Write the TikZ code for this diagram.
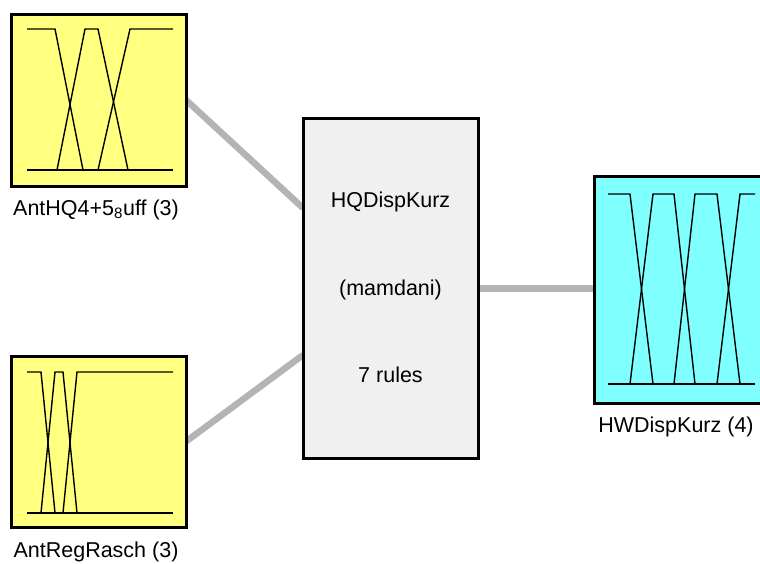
\documentclass[tikz,border=0pt]{standalone}
\usepackage{fontspec}
\setmainfont{Liberation Sans}
\usepackage{xcolor}
\usetikzlibrary{backgrounds}
\definecolor{invarcolor}{rgb}{1,1,0.5}
\definecolor{outvarcolor}{rgb}{0.5,1,1}
\definecolor{fiscolor}{rgb}{0.94,0.94,0.94}
\definecolor{linkcolor}{HTML}{B4B4B4}
\tikzset{
  varbox/.style={draw=black, line width=3pt, inner sep=0pt, outer sep=0pt},
  mfline/.style={black, line width=1.4pt, line join=miter},
  link/.style={linkcolor, line width=6.5pt},
  lbl/.style={font=\fontsize{21.5}{25}\selectfont, inner sep=0pt}
}

\begin{document}
\begin{tikzpicture}[x=1pt,y=-1pt]
\useasboundingbox (0,0) rectangle (760,563);
\clip (0,0) rectangle (760,563);
%% variable boxes and the rule box
\node[varbox, fill=invarcolor, minimum width=175pt, minimum height=172pt] (inHQ) at (98.5,100) {};
\node[varbox, fill=invarcolor, minimum width=175pt, minimum height=171pt] (inReg) at (98.5,441.5) {};
\node[varbox, fill=outvarcolor, minimum width=176pt, minimum height=227pt] (outHW) at (682.5,289.5) {};
\node[varbox, fill=fiscolor, minimum width=175pt, minimum height=340pt] (fis) at (390.5,288.5) {};
\coordinate (hookA) at (303,208);
\coordinate (hookB) at (303,355);
%% connectors, under the boxes
\begin{scope}[on background layer]
\draw[link] (inHQ.east) -- (hookA);
\draw[link] (inReg.east) -- (hookB);
\draw[link] (fis.east) -- (fis.east -| outHW.west);
\end{scope}
%% membership functions, input 1
\draw[mfline] (27,170) -- (173,170);
\draw[mfline] (27,29) -- (55,29) -- (83,170);
\draw[mfline] (57,170) -- (85,29) -- (98,29) -- (128,170);
\draw[mfline] (98,170) -- (130,29) -- (173,29);
%% membership functions, input 2
\draw[mfline] (27,513) -- (173,513);
\draw[mfline] (27,372) -- (41,372) -- (55,513);
\draw[mfline] (41,513) -- (55,372) -- (63,372) -- (77,513);
\draw[mfline] (63,513) -- (77,372) -- (173,372);
%% membership functions, output
\draw[mfline] (608,384) -- (755,384);
\draw[mfline] (608,194) -- (630,194) -- (653,384);
\foreach \a/\b/\c/\d in {630/653/674/695, 674/695/717/740}
    \draw[mfline] (\a,384) -- (\b,194) -- (\c,194) -- (\d,384);
\draw[mfline] (717,384) -- (740,194) -- (755,194);
%% texts
\node[lbl] (fisName) at (390.5,202) {HQDispKurz};
\node[lbl] (fisType) at (390.5,290) {(mamdani)};
\node[lbl] (fisRules) at (390.5,375) {7 rules};
\node[lbl] (lblHQ) at (96,210) {AntHQ4+5\textsubscript{8}uff (3)};
\node[lbl] (lblReg) at (96,552) {AntRegRasch (3)};
\node[lbl] (lblHW) at (676,427) {HWDispKurz (4)};
\end{tikzpicture}
\end{document}
